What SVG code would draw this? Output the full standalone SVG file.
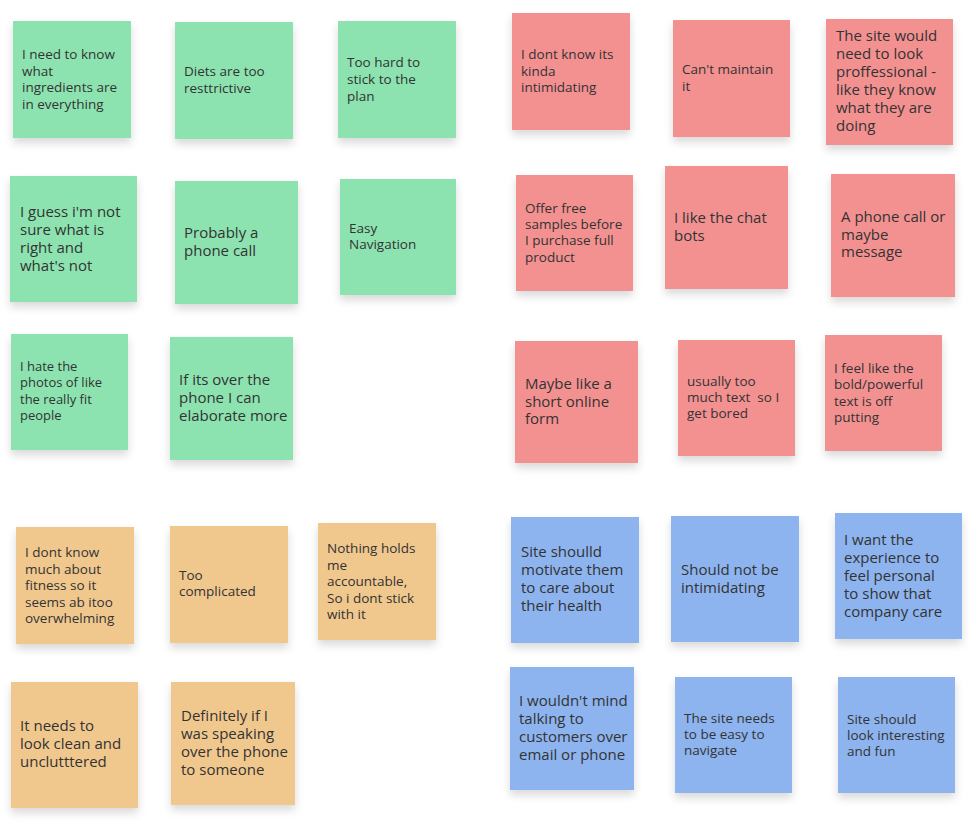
<svg xmlns="http://www.w3.org/2000/svg" width="975" height="835" viewBox="0 0 975 835">
<style>
.g{fill:#8ce3b0}.r{fill:#f39191}.o{fill:#f0c88e}.b{fill:#8db4ef}
rect{filter:url(#sh)}
text{font-family:"Open Sans","Noto Sans",sans-serif;fill:#333;font-size:13.5px}
.l{font-size:15px}
</style>
<defs><filter id="sh" x="-20%" y="-20%" width="140%" height="150%"><feDropShadow dx="0" dy="5" stdDeviation="4" flood-color="#000" flood-opacity="0.15"/></filter></defs>
<rect width="975" height="835" fill="#fff" style="filter:none"/>
<g id="g1"><rect class="g" x="13" y="21" width="118" height="117"/><text x="22"><tspan x="22" y="59">I need to know</tspan><tspan x="22" y="76">what</tspan><tspan x="22" y="92">ingredients are</tspan><tspan x="22" y="109">in everything</tspan></text></g>
<g id="g2"><rect class="g" x="175" y="22" width="118" height="117"/><text><tspan x="184" y="76">Diets are too</tspan><tspan x="184" y="93">resttrictive</tspan></text></g>
<g id="g3"><rect class="g" x="338" y="21" width="118" height="117"/><text><tspan x="347" y="67">Too hard to</tspan><tspan x="347" y="84">stick to the</tspan><tspan x="347" y="101">plan</tspan></text></g>
<g id="g4"><rect class="g" x="10" y="176" width="127" height="126"/><text class="l"><tspan x="20" y="217">I guess i'm not</tspan><tspan x="20" y="235">sure what is</tspan><tspan x="20" y="253">right and</tspan><tspan x="20" y="271">what's not</tspan></text></g>
<g id="g5"><rect class="g" x="175" y="181" width="123" height="123"/><text class="l"><tspan x="184" y="238">Probably a</tspan><tspan x="184" y="256">phone call</tspan></text></g>
<g id="g6"><rect class="g" x="340" y="179" width="116" height="116"/><text><tspan x="349" y="233">Easy</tspan><tspan x="349" y="249">Navigation</tspan></text></g>
<g id="g7"><rect class="g" x="11" y="334" width="117" height="116"/><text style="font-size:13px"><tspan x="20" y="371">I hate the</tspan><tspan x="20" y="387">photos of like</tspan><tspan x="20" y="404">the really fit</tspan><tspan x="20" y="420">people</tspan></text></g>
<g id="g8"><rect class="g" x="170" y="337" width="123" height="123"/><text class="l"><tspan x="179" y="385">If its over the</tspan><tspan x="179" y="403">phone I can</tspan><tspan x="179" y="421">elaborate more</tspan></text></g>

<g id="r1"><rect class="r" x="512" y="13" width="118" height="117"/><text><tspan x="521" y="59">I dont know its</tspan><tspan x="521" y="76">kinda</tspan><tspan x="521" y="92">intimidating</tspan></text></g>
<g id="r2"><rect class="r" x="673" y="20" width="117" height="117"/><text><tspan x="682" y="74">Can't maintain</tspan><tspan x="682" y="91">it</tspan></text></g>
<g id="r3"><rect class="r" x="826" y="19" width="127" height="126"/><text class="l"><tspan x="836" y="41">The site would</tspan><tspan x="836" y="59">need to look</tspan><tspan x="836" y="77">proffessional -</tspan><tspan x="836" y="95">like they know</tspan><tspan x="836" y="113">what they are</tspan><tspan x="836" y="131">doing</tspan></text></g>
<g id="r4"><rect class="r" x="516" y="175" width="117" height="116"/><text><tspan x="525" y="213">Offer free</tspan><tspan x="525" y="229">samples before</tspan><tspan x="525" y="245">I purchase full</tspan><tspan x="525" y="262">product</tspan></text></g>
<g id="r5"><rect class="r" x="665" y="166" width="123" height="123"/><text class="l"><tspan x="674" y="223">I like the chat</tspan><tspan x="674" y="241">bots</tspan></text></g>
<g id="r6"><rect class="r" x="831" y="174" width="124" height="123"/><text class="l"><tspan x="841" y="222">A phone call or</tspan><tspan x="841" y="240">maybe</tspan><tspan x="841" y="257">message</tspan></text></g>
<g id="r7"><rect class="r" x="515" y="341" width="123" height="122"/><text class="l"><tspan x="525" y="389">Maybe like a</tspan><tspan x="525" y="407">short online</tspan><tspan x="525" y="424">form</tspan></text></g>
<g id="r8"><rect class="r" x="678" y="340" width="117" height="116"/><text><tspan x="687" y="386">usually too</tspan><tspan x="687" y="402" xml:space="preserve">much text  so I</tspan><tspan x="687" y="418">get bored</tspan></text></g>
<g id="r9"><rect class="r" x="825" y="335" width="117" height="116"/><text><tspan x="834" y="373">I feel like the</tspan><tspan x="834" y="389">bold/powerful</tspan><tspan x="834" y="406">text is off</tspan><tspan x="834" y="422">putting</tspan></text></g>

<g id="o1"><rect class="o" x="16" y="527" width="118" height="117"/><text><tspan x="25" y="557">I dont know</tspan><tspan x="25" y="574">much about</tspan><tspan x="25" y="590">fitness so it</tspan><tspan x="25" y="607">seems ab itoo</tspan><tspan x="25" y="623">overwhelming</tspan></text></g>
<g id="o2"><rect class="o" x="170" y="526" width="118" height="117"/><text><tspan x="179" y="580">Too</tspan><tspan x="179" y="596">complicated</tspan></text></g>
<g id="o3"><rect class="o" x="318" y="523" width="118" height="117"/><text><tspan x="327" y="553">Nothing holds</tspan><tspan x="327" y="570">me</tspan><tspan x="327" y="586">accountable,</tspan><tspan x="327" y="603">So i dont stick</tspan><tspan x="327" y="619">with it</tspan></text></g>
<g id="o4"><rect class="o" x="11" y="682" width="127" height="126"/><text class="l"><tspan x="20" y="731">It needs to</tspan><tspan x="20" y="749">look clean and</tspan><tspan x="20" y="767">unclutttered</tspan></text></g>
<g id="o5"><rect class="o" x="171" y="682" width="124" height="123"/><text class="l"><tspan x="181" y="721">Definitely if I</tspan><tspan x="181" y="739">was speaking</tspan><tspan x="181" y="757">over the phone</tspan><tspan x="181" y="775">to someone</tspan></text></g>

<g id="b1"><rect class="b" x="511" y="517" width="128" height="126"/><text class="l"><tspan x="521" y="557">Site shoulld</tspan><tspan x="521" y="575">motivate them</tspan><tspan x="521" y="593">to care about</tspan><tspan x="521" y="611">their health</tspan></text></g>
<g id="b2"><rect class="b" x="671" y="516" width="128" height="126"/><text class="l"><tspan x="681" y="575">Should not be</tspan><tspan x="681" y="593">intimidating</tspan></text></g>
<g id="b3"><rect class="b" x="835" y="513" width="127" height="126"/><text class="l"><tspan x="844" y="545">I want the</tspan><tspan x="844" y="563">experience to</tspan><tspan x="844" y="581">feel personal</tspan><tspan x="844" y="599">to show that</tspan><tspan x="844" y="617">company care</tspan></text></g>
<g id="b4"><rect class="b" x="510" y="667" width="124" height="123"/><text class="l"><tspan x="519" y="706">I wouldn't mind</tspan><tspan x="519" y="724">talking to</tspan><tspan x="519" y="742">customers over</tspan><tspan x="519" y="760">email or phone</tspan></text></g>
<g id="b5"><rect class="b" x="675" y="677" width="117" height="116"/><text><tspan x="684" y="723">The site needs</tspan><tspan x="684" y="739">to be easy to</tspan><tspan x="684" y="755">navigate</tspan></text></g>
<g id="b6"><rect class="b" x="838" y="677" width="117" height="116"/><text><tspan x="847" y="724">Site should</tspan><tspan x="847" y="740">look interesting</tspan><tspan x="847" y="756">and fun</tspan></text></g>
<g id="connectors"/>
</svg>
